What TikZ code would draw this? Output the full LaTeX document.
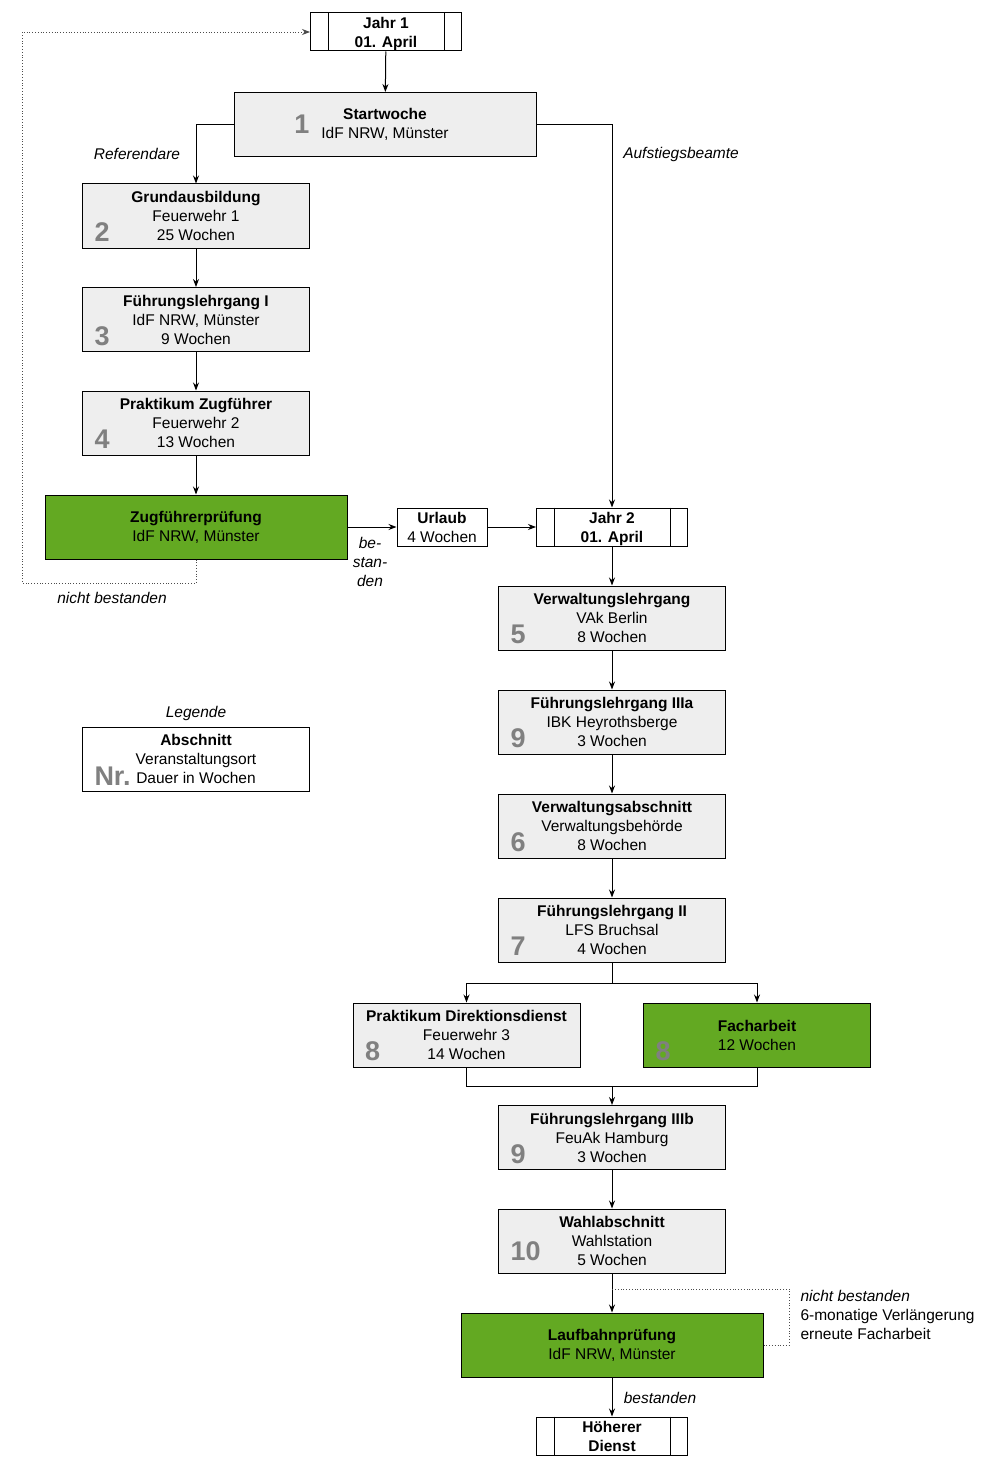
\documentclass[tikz,border=0pt]{standalone}
\usepackage{fontspec}
\setmainfont{Liberation Sans}
\usetikzlibrary{arrows.meta}

\definecolor{boxgray}{HTML}{EEEEEE}
\definecolor{boxgreen}{HTML}{63A922}
\definecolor{numgray}{HTML}{808080}

\begin{document}
\begin{tikzpicture}[x = 1pt, y = -1pt, line width = 1pt,
                        box/.style = {rectangle, draw, fill = boxgray, minimum width = 227pt, minimum height = 64pt,
                                      align = center, inner sep = 0pt, font = \fontsize{15.5}{19}\selectfont},
                        greenbox/.style = {box, fill = boxgreen, minimum width = 302pt},
                        limit/.style = {box, fill = white, minimum width = 151pt, minimum height = 38pt, text depth = -2.5pt},
                        num/.style = {anchor = base west, text = numgray, inner sep = 0pt,
                                      font = \fontsize{27}{27}\selectfont\bfseries},
                        note/.style = {align = center, inner sep = 0pt, font = \fontsize{15.5}{19}\selectfont\itshape},
                        arr/.style = {-{Stealth[length = 8pt, width = 6pt]}},
                        retry/.style = {dotted, draw = black!70, line width = 0.8pt}]
      \path [fill = white] (0, 0) rectangle (1008, 1474);
      \useasboundingbox (0, 0) rectangle (1008, 1474);

      % left column
      \node [limit] (jahr1) at (386, 32) {\textbf{Jahr 1}\\\textbf{01. April}};
      \node [box, minimum width = 302pt] (start) at (385, 124.5) {\textbf{Startwoche}\\IdF NRW, Münster};
      \node [box] (grund) at (196, 216) {\textbf{Grundausbildung}\\Feuerwehr 1\\25 Wochen};
      \node [box] (fl1) at (196, 319.5) {\textbf{Führungslehrgang I}\\IdF NRW, Münster\\9 Wochen};
      \node [box] (prakt) at (196, 423) {\textbf{Praktikum Zugführer}\\Feuerwehr 2\\13 Wochen};
      \node [greenbox] (zugf) at (196, 527) {\textbf{Zugführerprüfung}\\IdF NRW, Münster};
      \node [limit, minimum width = 90pt] (urlaub) at (442, 527) {\textbf{Urlaub}\\4 Wochen};
      \node [box, fill = white] (legend) at (196, 759) {\textbf{Abschnitt}\\Veranstaltungsort\\Dauer in Wochen};

      % right column
      \node [limit] (jahr2) at (612, 527) {\textbf{Jahr 2}\\\textbf{01. April}};
      \node [box] (verwl) at (612, 618) {\textbf{Verwaltungslehrgang}\\VAk Berlin\\8 Wochen};
      \node [box] (fl3a) at (612, 722) {\textbf{Führungslehrgang IIIa}\\IBK Heyrothsberge\\3 Wochen};
      \node [box] (verwa) at (612, 826) {\textbf{Verwaltungsabschnitt}\\Verwaltungsbehörde\\8 Wochen};
      \node [box] (fl2) at (612, 930) {\textbf{Führungslehrgang II}\\LFS Bruchsal\\4 Wochen};
      \node [box] (praktd) at (466.5, 1035) {\textbf{Praktikum Direktionsdienst}\\Feuerwehr 3\\14 Wochen};
      \node [box, fill = boxgreen] (fach) at (757, 1035) {\textbf{Facharbeit}\\12 Wochen};
      \node [box] (fl3b) at (612, 1137.5) {\textbf{Führungslehrgang IIIb}\\FeuAk Hamburg\\3 Wochen};
      \node [box] (wahl) at (612, 1241) {\textbf{Wahlabschnitt}\\Wahlstation\\5 Wochen};
      \node [greenbox] (laufb) at (612, 1345) {\textbf{Laufbahnprüfung}\\IdF NRW, Münster};
      \node [limit] (hoeher) at (612, 1436) {\textbf{Höherer}\\\textbf{Dienst}};

      \foreach \n in {jahr1, jahr2, hoeher} {
        \draw ([xshift = 18pt]\n.north west) -- ([xshift = 18pt]\n.south west);
        \draw ([xshift = -18pt]\n.north east) -- ([xshift = -18pt]\n.south east);
      }

      % numbers
      \node [num, anchor = center] (n1) at (302, 124) {1};
      \node [num] (n2) at ([shift = {(12, -7)}]grund.south west) {2};
      \node [num] (n3) at ([shift = {(12, -7)}]fl1.south west) {3};
      \node [num] (n4) at ([shift = {(12, -7)}]prakt.south west) {4};
      \node [num] (n5) at ([shift = {(12, -7)}]verwl.south west) {5};
      \node [num] (n9a) at ([shift = {(12, -7)}]fl3a.south west) {9};
      \node [num] (n6) at ([shift = {(12, -7)}]verwa.south west) {6};
      \node [num] (n7) at ([shift = {(12, -7)}]fl2.south west) {7};
      \node [num] (n8a) at ([shift = {(12, -7)}]praktd.south west) {8};
      \node [num] (n8b) at ([shift = {(12, -7)}]fach.south west) {8};
      \node [num] (n9b) at ([shift = {(12, -7)}]fl3b.south west) {9};
      \node [num] (n10) at ([shift = {(12, -13)}]wahl.south west) {10};
      \node [num] (nr) at ([shift = {(12, -6)}]legend.south west) {Nr.};

      % labels
      \node [note] (ref) at (137, 154) {Referendare};
      \node [note] (aufst) at (681, 154) {Aufstiegsbeamte};
      \node [note] (best1) at (370, 562) {be-\\stan-\\den};
      \node [note] (nicht1) at (112, 598) {nicht bestanden};
      \node [note] (leg) at (196, 713) {Legende};
      \node [note] (best2) at (660, 1398) {bestanden};
      \node [note, anchor = north west, align = left, font = \fontsize{15.5}{19}\selectfont] (nicht2) at (800, 1290)
            {\textit{nicht bestanden}\\6-monatige Verlängerung\\erneute Facharbeit};

      \coordinate (join) at (612, 1086);
      \coordinate (merge) at (612, 1289);

      % connectors
      \draw [arr] (jahr1) -- (start);
      \draw [arr] (start.west) -| (grund.north);
      \draw [arr] (start.east) -| (jahr2.north);
      \draw [arr] (grund) -- (fl1);
      \draw [arr] (fl1) -- (prakt);
      \draw [arr] (prakt) -- (zugf);
      \draw [arr] (zugf) -- (urlaub);
      \draw [arr] (urlaub) -- (jahr2);
      \draw [retry, arr] (zugf.south) |- (22, 583) |- (jahr1.west);
      \draw [arr] (jahr2) -- (verwl);
      \draw [arr] (verwl) -- (fl3a);
      \draw [arr] (fl3a) -- (verwa);
      \draw [arr] (verwa) -- (fl2);
      \draw [arr] (fl2.south) -- ++(0, 21) -| (praktd.north);
      \draw [arr] (fl2.south) -- ++(0, 21) -| (fach.north);
      \draw (praktd.south) |- (join) -| (fach.south);
      \draw [arr] (join) -- (fl3b);
      \draw [arr] (fl3b) -- (wahl);
      \draw [arr] (wahl) -- (laufb);
      \draw [retry] (laufb.east) -| (789, 1289) -- (merge);
      \draw [arr] (laufb) -- (hoeher);
    \end{tikzpicture}
\end{document}
